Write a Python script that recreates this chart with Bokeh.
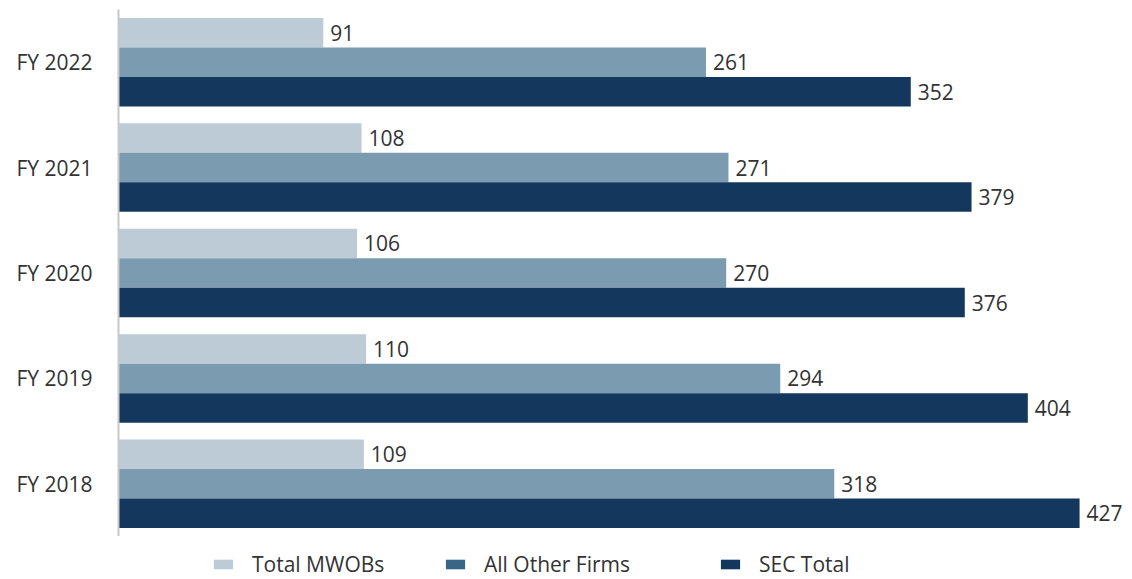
from bokeh.plotting import figure
from bokeh.layouts import column
from bokeh.models import ColumnDataSource, FactorRange, Range1d, Legend, LegendItem
from bokeh.transform import dodge
from bokeh.core.properties import value
from bokeh.embed import file_html
from bokeh.resources import INLINE

years = ["FY 2018", "FY 2019", "FY 2020", "FY 2021", "FY 2022"]
total_mwobs = [109, 110, 106, 108, 91]
all_other_firms = [318, 294, 270, 271, 261]
sec_total = [427, 404, 376, 379, 352]
series_names = ["Total MWOBs", "All Other Firms", "SEC Total"]

bar_colors = ["#bccbd6", "#7a9bb0", "#14375e"]
legend_colors = ["#bccbd6", "#396685", "#14375e"]
offsets = [0.28, 0.0, -0.28]
FONT = "Open Sans"
TEXT_COLOR = "#333333"

source = ColumnDataSource(dict(
    year=years,
    mwobs=total_mwobs,
    other=all_other_firms,
    sec=sec_total,
    mwobs_lbl=[str(v) for v in total_mwobs],
    other_lbl=[str(v) for v in all_other_firms],
    sec_lbl=[str(v) for v in sec_total],
))

p = figure(
    width=1132, height=536,
    y_range=FactorRange(factors=years, range_padding=0),
    x_range=Range1d(0, 447.4),
    output_backend="svg", toolbar_location=None,
    min_border_left=118, min_border_right=7,
    min_border_top=9, min_border_bottom=0,
)

cols = ["mwobs", "other", "sec"]
for col, color, off in zip(cols, bar_colors, offsets):
    y = dodge("year", off, range=p.y_range)
    p.hbar(y=y, right=col, left=0, height=0.28, source=source,
           fill_color=color, line_color=None)
    p.text(x=col, y=y, text=col + "_lbl", source=source,
           x_offset=7, text_baseline="middle", text_align="left",
           text_font=value(FONT), text_font_size="21px", text_color=TEXT_COLOR)

p.xaxis.visible = False
p.xgrid.visible = False
p.ygrid.visible = False
p.outline_line_color = None

p.yaxis.axis_line_color = "#c8c8c8"
p.yaxis.axis_line_width = 2
p.yaxis.major_tick_line_color = None
p.yaxis.minor_tick_line_color = None
p.yaxis.major_label_standoff = 20
p.yaxis.major_label_text_font = FONT
p.yaxis.major_label_text_font_size = "21px"
p.yaxis.major_label_text_color = TEXT_COLOR

# legend strip below the chart (frame aligned with the main chart's frame)
lf = figure(width=1132, height=43, x_range=Range1d(0, 1), y_range=Range1d(0, 1),
            output_backend="svg", toolbar_location=None,
            min_border=0)
lf.axis.visible = False
lf.grid.visible = False
lf.outline_line_color = None

legend_x = [93, 325, 600]
for name, color, lx in zip(series_names, legend_colors, legend_x):
    # zero-width proxy bar: draws nothing, only supplies the legend swatch
    r = lf.hbar(y=[0], right=[0], left=[0], height=0.5, fill_color=color, line_color=None)
    leg = Legend(items=[LegendItem(label=name, renderers=[r])],
                 location=(lx, 1), orientation="horizontal",
                 glyph_width=24, glyph_height=12, label_standoff=17,
                 label_height=12, padding=0, margin=0, spacing=0,
                 border_line_color=None, background_fill_alpha=0,
                 label_text_font=FONT, label_text_font_size="21px",
                 label_text_color=TEXT_COLOR)
    lf.add_layout(leg, "center")

layout = column(p, lf, spacing=0)
open("out.html", "w").write(file_html(layout, INLINE))
